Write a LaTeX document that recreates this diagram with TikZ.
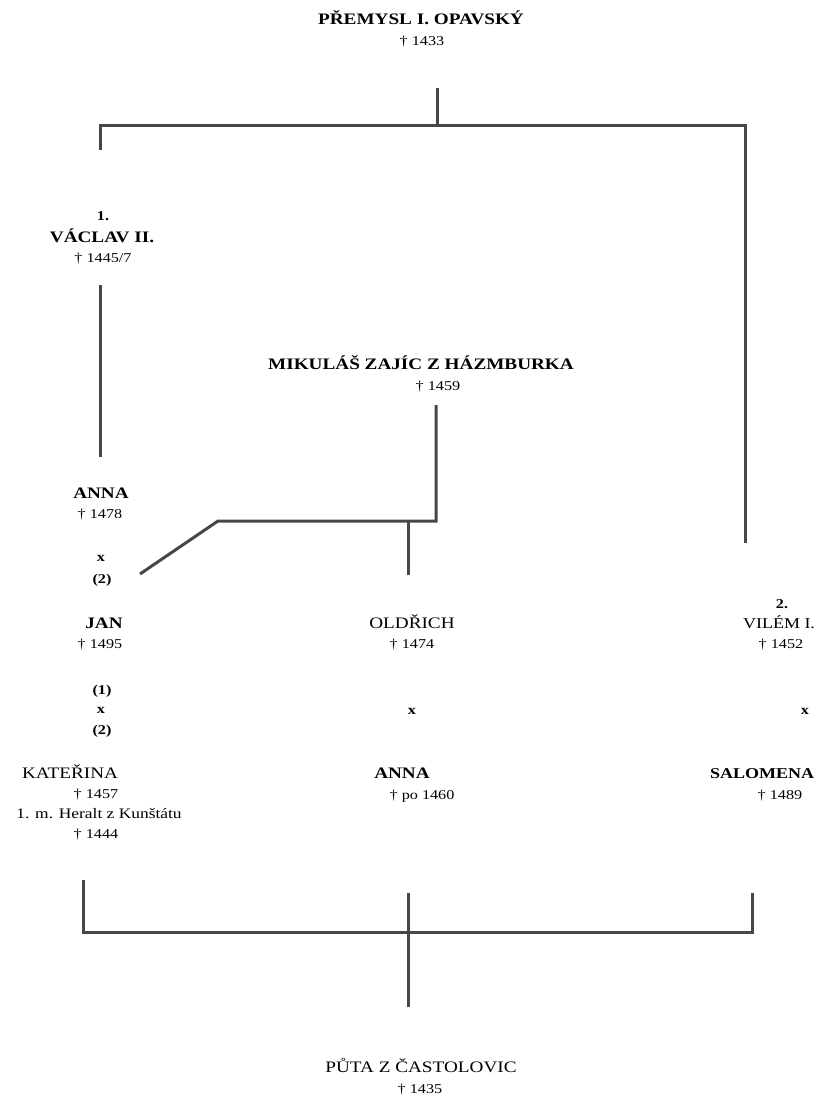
\documentclass[tikz,border=0pt]{standalone}
\usepackage{fontspec}
\setmainfont{Liberation Serif}[FakeStretch=1.2]
\tikzset{
  nm/.style={font=\fontsize{16}{18}\selectfont\bfseries, inner sep=0pt, anchor=base},
  nmr/.style={font=\fontsize{16}{18}\selectfont, inner sep=0pt, anchor=base},
  nms/.style={font=\fontsize{15}{18}\selectfont, inner sep=0pt, anchor=base},
  dt/.style={font=\fontsize{13.5}{16}\selectfont, inner sep=0pt, anchor=base},
  dtl/.style={font=\fontsize{14.5}{16}\selectfont, inner sep=0pt, anchor=base},
  mk/.style={font=\fontsize{13.5}{16}\selectfont\bfseries, inner sep=0pt, anchor=base},
  ln/.style={line width=3pt, draw=black!72}
}
\begin{document}
\begin{tikzpicture}[x=1pt,y=-1pt]
\useasboundingbox (0,0) rectangle (816,1101);
% texts
\node[nm] (premysl) at (421,24) {PŘEMYSL I. OPAVSKÝ};
\node[dt] (premyslD) at (422,45) {† 1433};
\node[mk] (v1) at (103,220) {1.};
\node[nm] (vaclav) at (102,242) {VÁCLAV II.};
\node[dt] (vaclavD) at (103,262) {† 1445/7};
\node[nm] (mikulas) at (421,369) {MIKULÁŠ ZAJÍC Z HÁZMBURKA};
\node[dt] (mikulasD) at (438,390) {† 1459};
\node[nm] (annaL) at (101,498) {ANNA};
\node[dt] (annaLD) at (100,518) {† 1478};
\node[mk] (xA) at (101,561) {x};
\node[mk] (xA2) at (102,583) {(2)};
\node[nm] (jan) at (104,628) {JAN};
\node[dt] (janD) at (100,648) {† 1495};
\node[nmr] (oldrich) at (412,628) {OLDŘICH};
\node[dt] (oldrichD) at (412,648) {† 1474};
\node[mk] (w2) at (782,608) {2.};
\node[nms] (vilem) at (779,628) {VILÉM I.};
\node[dt] (vilemD) at (781,648) {† 1452};
\node[mk] (xJ1) at (102,694) {(1)};
\node[mk] (xJ) at (101,713) {x};
\node[mk] (xJ2) at (102,734) {(2)};
\node[mk] (xO) at (412,714) {x};
\node[mk] (xV) at (805,714) {x};
\node[nmr] (katerina) at (70,778) {KATEŘINA};
\node[dt] (katerinaD) at (96,798) {† 1457};
\node[dtl] (heralt) at (99,818) {1. m. Heralt z Kunštátu};
\node[dt] (heraltD) at (96,838) {† 1444};
\node[nm] (annaM) at (402,778) {ANNA};
\node[dt] (annaMD) at (422,799) {† po 1460};
\node[nms] (salomena) at (762,778) {\bfseries SALOMENA};
\node[dt] (salomenaD) at (780,799) {† 1489};
\node[nmr] (puta) at (421,1072) {PŮTA Z ČASTOLOVIC};
\node[dt] (putaD) at (420,1093) {† 1435};
% junction coordinates
\coordinate (t0) at (437,88);
\coordinate (t1) at (437,125);
\coordinate (tl) at (100,125);
\coordinate (tr) at (745,125);
\coordinate (tlE) at (100,150);
\coordinate (trE) at (745,543);
\coordinate (vs) at (100,285);
\coordinate (ve) at (100,457);
\coordinate (m0) at (436,405);
\coordinate (m1) at (436,521);
\coordinate (m2) at (218,521);
\coordinate (m3) at (140,574);
\coordinate (o0) at (408,521);
\coordinate (o1) at (408,575);
\coordinate (b0) at (83,880);
\coordinate (b1) at (83,932);
\coordinate (b2) at (752,932);
\coordinate (b3) at (752,893);
\coordinate (c0) at (408,893);
\coordinate (c1) at (408,1007);
% lines
\draw[ln] (t0) -- (t1);
\draw[ln] (tlE) -- (tl) -- (tr) -- (trE);
\draw[ln] (vs) -- (ve);
\draw[ln] (m0) -- (m1) -- (m2) -- (m3);
\draw[ln] (o0) -- (o1);
\draw[ln] (b0) -- (b1) -- (b2) -- (b3);
\draw[ln] (c0) -- (c1);
\end{tikzpicture}
\end{document}
